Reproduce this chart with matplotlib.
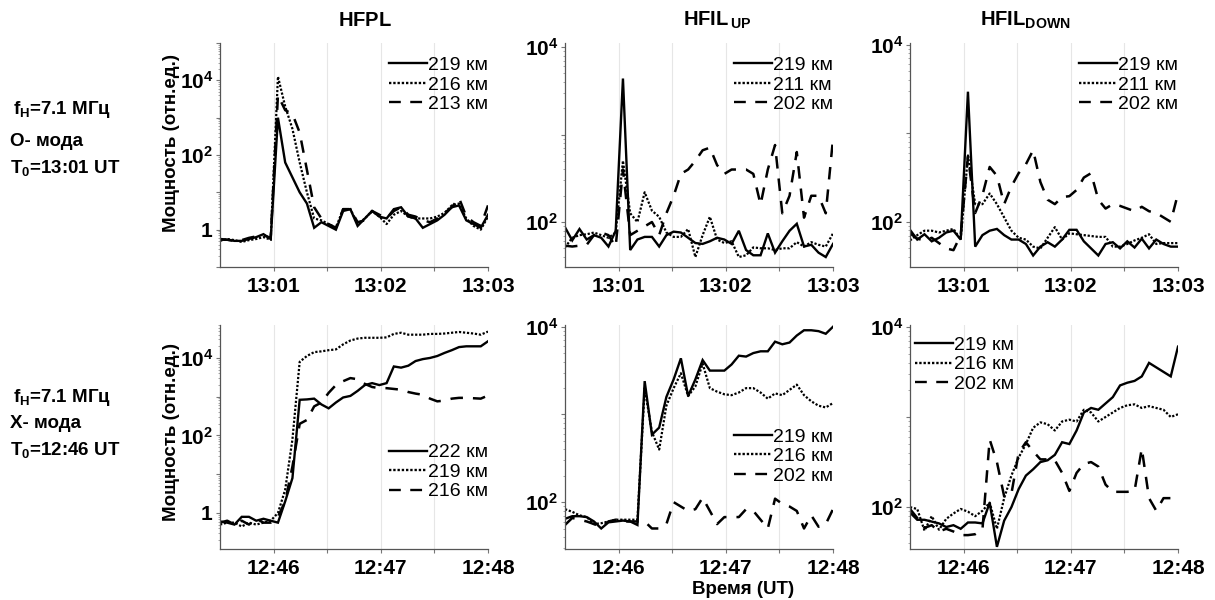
import numpy as np
import matplotlib
matplotlib.use("Agg")
import matplotlib.pyplot as plt
from matplotlib.ticker import FixedLocator, FixedFormatter, LogLocator, NullFormatter

plt.rcParams['font.family'] = ['Liberation Sans', 'DejaVu Sans']
plt.rcParams['mathtext.fontset'] = 'custom'
plt.rcParams['mathtext.rm'] = 'Liberation Sans'
plt.rcParams['mathtext.bf'] = 'Liberation Sans:bold'

# ---- data: log10 of received power (rel. units), 38 samples over 150 s ----
n_samples = 38
span_s = 150.0

# O-mode, T0 = 13:01 UT (window starts at 13:00:30)
o_hfpl_219 = [-0.27, -0.27, -0.3, -0.3, -0.25, -0.2, -0.12, -0.25, 3.0, 1.8, 1.4, 1.0, 0.7, 0.05,
              0.2, 0.1, 0.0, 0.5, 0.55, 0.1, 0.3, 0.5, 0.35, 0.3, 0.55, 0.6, 0.35, 0.3, 0.05, 0.15,
              0.25, 0.4, 0.6, 0.65, 0.25, 0.15, 0.05, 0.4]
o_hfpl_216 = [-0.3, -0.25, -0.28, -0.33, -0.28, -0.25, -0.2, -0.27, 4.1, 3.3, 2.7, 1.8, 1.0, 0.3,
              0.25, 0.15, 0.05, 0.55, 0.55, 0.15, 0.3, 0.5, 0.35, 0.15, 0.4, 0.5, 0.35, 0.3, 0.3, 0.3,
              0.35, 0.45, 0.65, 0.7, 0.3, 0.1, 0.0, 0.35]
o_hfpl_213 = [-0.25, -0.27, -0.3, -0.28, -0.22, -0.18, -0.15, -0.22, 3.6, 3.2, 3.1, 2.6, 1.6, 0.6,
              0.3, 0.15, 0.05, 0.55, 0.55, 0.2, 0.25, 0.5, 0.4, 0.3, 0.5, 0.6, 0.4, 0.35, 0.25, 0.2,
              0.3, 0.45, 0.6, 0.85, 0.35, 0.2, 0.1, 0.65]

o_up_219 = [1.94, 1.79, 1.92, 1.8, 1.85, 1.82, 1.72, 1.9, 3.64, 1.68, 1.8, 1.83, 1.83, 1.72,
            1.85, 1.89, 1.88, 1.82, 1.76, 1.75, 1.78, 1.82, 1.8, 1.75, 1.9, 1.68, 1.62, 1.62, 1.87,
            1.65, 1.78, 1.9, 1.98, 1.72, 1.74, 1.65, 1.6, 1.75]
o_up_211 = [1.71, 1.82, 1.85, 1.86, 1.88, 1.85, 1.82, 1.88, 2.7, 2.1, 2.0, 2.34, 2.13, 2.06,
            1.88, 1.83, 1.83, 1.92, 1.6, 1.85, 2.06, 1.8, 1.76, 1.78, 1.6, 1.62, 1.71, 1.7, 1.7,
            1.68, 1.7, 1.7, 1.77, 1.72, 1.77, 1.74, 1.72, 1.87]
o_up_202 = [1.73, 1.72, 1.73, 1.74, 1.85, 1.88, 1.85, 1.72, 2.6, 1.85, 1.9, 1.95, 2.0, 1.85,
            2.1, 2.3, 2.55, 2.6, 2.7, 2.82, 2.85, 2.65, 2.55, 2.6, 2.6, 2.6, 2.55, 2.2, 2.6,
            2.88, 2.1, 2.3, 2.8, 2.05, 2.3, 2.3, 2.1, 2.95]

o_down_219 = [1.91, 1.8, 1.86, 1.78, 1.82, 1.88, 1.9, 1.8, 3.47, 1.72, 1.85, 1.9, 1.92, 1.85,
              1.8, 1.8, 1.75, 1.62, 1.72, 1.77, 1.72, 1.8, 1.91, 1.91, 1.78, 1.7, 1.62, 1.75, 1.77,
              1.7, 1.78, 1.71, 1.81, 1.7, 1.8, 1.75, 1.72, 1.72]
o_down_211 = [1.79, 1.85, 1.9, 1.9, 1.88, 1.9, 1.92, 1.8, 2.75, 2.2, 2.2, 2.32, 2.2, 2.05,
              1.9, 1.82, 1.8, 1.72, 1.7, 1.82, 1.94, 1.8, 1.87, 1.86, 1.85, 1.84, 1.83, 1.83, 1.72,
              1.72, 1.75, 1.79, 1.82, 1.86, 1.75, 1.76, 1.76, 1.76]
o_down_202 = [1.87, 1.81, 1.79, 1.82, 1.76, 1.7, 1.68, 1.85, 2.74, 2.1, 2.3, 2.62, 2.52, 2.2,
              2.4, 2.55, 2.65, 2.81, 2.45, 2.25, 2.2, 2.28, 2.29, 2.36, 2.5, 2.55, 2.25, 2.15, 2.2,
              2.18, 2.15, 2.12, 2.17, 2.12, 2.1, 2.05, 2.0, 2.32]

# X-mode, T0 = 12:46 UT (window starts at 12:45:30)
x_hfpl_222 = [-0.22, -0.25, -0.3, -0.1, -0.1, -0.2, -0.15, -0.2, -0.25, 0.3, 0.9, 2.92, 2.93, 2.95,
              2.8, 2.7, 2.85, 2.98, 3.02, 3.15, 3.3, 3.35, 3.3, 3.35, 3.78, 3.75, 3.8, 3.92, 3.97,
              4.0, 4.05, 4.13, 4.2, 4.28, 4.3, 4.3, 4.3, 4.43]
x_hfpl_219 = [-0.3, -0.25, -0.25, -0.35, -0.25, -0.3, -0.25, -0.2, 0.0, 0.6, 1.9, 3.9, 4.05, 4.15,
              4.17, 4.2, 4.22, 4.35, 4.45, 4.5, 4.52, 4.52, 4.52, 4.53, 4.62, 4.65, 4.6, 4.6, 4.6,
              4.62, 4.62, 4.63, 4.65, 4.67, 4.65, 4.63, 4.6, 4.68]
x_hfpl_216 = [-0.25, -0.2, -0.3, -0.2, -0.3, -0.15, -0.25, -0.25, -0.1, 0.3, 1.2, 2.3, 2.4, 2.75,
              2.85, 3.1, 3.3, 3.4, 3.48, 3.45, 3.33, 3.25, 3.22, 3.22, 3.2, 3.18, 3.12, 3.08, 3.05,
              2.95, 2.88, 2.9, 2.95, 2.97, 2.97, 2.96, 2.95, 3.03]

x_up_219 = [1.81, 1.84, 1.84, 1.83, 1.78, 1.7, 1.77, 1.78, 1.79, 1.78, 1.74, 3.38, 2.77, 2.85,
            3.2, 3.4, 3.64, 3.21, 3.4, 3.62, 3.5, 3.5, 3.5, 3.57, 3.67, 3.66, 3.7, 3.72, 3.72,
            3.83, 3.8, 3.82, 3.9, 3.96, 3.96, 3.95, 3.92, 4.0]
x_up_216 = [1.92, 1.89, 1.85, 1.83, 1.75, 1.76, 1.78, 1.8, 1.8, 1.8, 1.8, 3.3, 2.8, 2.6,
            3.1, 3.3, 3.47, 3.21, 3.32, 3.58, 3.3, 3.26, 3.23, 3.22, 3.25, 3.3, 3.3, 3.25, 3.18,
            3.24, 3.22, 3.28, 3.34, 3.22, 3.15, 3.1, 3.08, 3.13]
x_up_202 = [1.74, 1.82, 1.8, 1.78, 1.75, 1.72, 1.78, 1.8, 1.78, 1.78, 1.78, 1.78, 1.7, 1.7,
            1.75, 2.0, 1.95, 1.9, 1.92, 2.05, 1.9, 1.75, 1.83, 1.83, 1.83, 1.92, 1.9, 1.8, 1.7,
            2.04, 1.98, 1.95, 1.9, 1.7, 1.85, 1.72, 1.75, 1.92]

x_down_219 = [1.94, 1.86, 1.86, 1.84, 1.82, 1.78, 1.8, 1.76, 1.83, 1.83, 1.82, 2.05, 1.56, 1.85,
              2.0, 2.2, 2.35, 2.42, 2.5, 2.52, 2.58, 2.72, 2.7, 2.85, 3.05, 3.1, 3.08, 3.15, 3.22,
              3.35, 3.38, 3.4, 3.45, 3.6, 3.55, 3.5, 3.45, 3.78]
x_down_216 = [2.0, 1.98, 1.74, 1.9, 1.75, 1.87, 1.93, 1.98, 1.95, 1.9, 1.96, 2.05, 1.76, 2.1,
              2.35, 2.55, 2.7, 2.88, 2.94, 2.92, 2.85, 2.95, 2.97, 2.95, 3.08, 3.05, 2.95, 3.0, 3.05,
              3.1, 3.13, 3.14, 3.1, 3.12, 3.1, 3.08, 3.0, 3.03]
x_down_202 = [1.98, 1.88, 1.77, 1.8, 1.73, 1.76, 1.73, 1.69, 1.69, 1.7, 1.75, 2.75, 2.5, 2.12,
              2.15, 2.6, 2.72, 2.62, 2.53, 2.53, 2.52, 2.38, 2.18, 2.38, 2.48, 2.5, 2.45, 2.25, 2.17,
              2.17, 2.17, 2.18, 2.65, 2.1, 1.96, 2.1, 2.1, 2.09]

o_labels = {"hfpl": ["219 км", "216 км", "213 км"],
            "up": ["219 км", "211 км", "202 км"],
            "down": ["219 км", "211 км", "202 км"]}
x_labels = {"hfpl": ["222 км", "219 км", "216 км"],
            "up": ["219 км", "216 км", "202 км"],
            "down": ["219 км", "216 км", "202 км"]}
o_ticks = ["13:01", "13:02", "13:03"]
x_ticks = ["12:46", "12:47", "12:48"]
col_titles = [r"$\mathbf{HFPL}$", r"$\mathbf{HFIL_{\,UP}}$", r"$\mathbf{HFIL_{DOWN}}$"]

# ---- layout ----
W, H = 1215, 600
fig = plt.figure(figsize=(W / 100, H / 100), dpi=100)

def px_axes(x0, y0, x1, y1):
    return fig.add_axes([x0 / W, 1 - y1 / H, (x1 - x0) / W, (y1 - y0) / H])

col_x = [(220, 488), (565, 833), (910, 1178)]
row_y = [(43, 267), (325, 549)]

ylims = [[(10 ** -1.0, 10 ** 5.0), (10 ** 1.486, 10 ** 4.046), (10 ** 1.49, 10 ** 4.02)],
         [(10 ** -0.93, 10 ** 4.85), (10 ** 1.466, 10 ** 4.02), (10 ** 1.536, 10 ** 4.02)]]

styles = [dict(ls="-", lw=1.7),
          dict(ls=(0, (1, 0.8)), lw=1.6),
          dict(ls=(0, (5, 4)), lw=1.8)]

panels = [
    [(o_hfpl_219, o_hfpl_216, o_hfpl_213), (o_up_219, o_up_211, o_up_202),
     (o_down_219, o_down_211, o_down_202)],
    [(x_hfpl_222, x_hfpl_219, x_hfpl_216), (x_up_219, x_up_216, x_up_202),
     (x_down_219, x_down_216, x_down_202)],
]
labels = [[o_labels["hfpl"], o_labels["up"], o_labels["down"]],
          [x_labels["hfpl"], x_labels["up"], x_labels["down"]]]
tick_sets = [o_ticks, x_ticks]
legend_locs = [["upper right", "upper right", "upper right"],
               ["upper right", "upper right", "upper left"]]
legend_anchor = [[(1.0, 0.94), (1.0, 0.94), (1.0, 0.94)],
                 [(1.0, 0.47), (1.0, 0.54), (0.02, 0.95)]]

t = np.linspace(0, span_s, n_samples)
fmt_log = {-1: "", 0: r"$\mathbf{1}$", 1: "", 2: r"$\mathbf{10^{2}}$",
           3: "", 4: r"$\mathbf{10^{4}}$", 5: ""}

for r in range(2):
    for c in range(3):
        x0, x1 = col_x[c]
        y0, y1 = row_y[r]
        ax = px_axes(x0, y0, x1, y1)
        for series, lab, st in zip(panels[r][c], labels[r][c], styles):
            ax.plot(t, 10 ** np.asarray(series), color="black", label=lab,
                    solid_joinstyle="miter", **st)
        ax.set_yscale("log")
        ax.set_ylim(*ylims[r][c])
        ax.set_xlim(0, span_s)
        # decade ticks, labelled on even decades
        dec = [e for e in range(-1, 6)]
        ax.yaxis.set_major_locator(FixedLocator([10.0 ** e for e in dec]))
        ax.yaxis.set_major_formatter(FixedFormatter([fmt_log[e] for e in dec]))
        ax.yaxis.set_minor_locator(LogLocator(base=10, subs=np.arange(2, 10), numticks=20))
        ax.yaxis.set_minor_formatter(NullFormatter())
        ax.set_xticks([30, 90, 150])
        ax.set_xticklabels(tick_sets[r], fontsize=15, fontweight="bold")
        ax.set_xticks([60, 120], minor=True)
        ax.tick_params(axis="y", which="major", labelsize=15, length=3, width=0.8,
                       color="#777777", pad=2)
        ax.tick_params(axis="y", which="minor", length=1.5, width=0.6, color="#999999")
        ax.tick_params(axis="x", which="both", length=3, width=0.8, color="#777777", pad=4)
        for s in ("top", "right"):
            ax.spines[s].set_visible(False)
        for s in ("left", "bottom"):
            ax.spines[s].set_color("#555555")
            ax.spines[s].set_linewidth(0.9)
        for xv in (30, 60, 90, 120):
            ax.axvline(xv, color="#e6e6e6", lw=0.8, zorder=0)
        leg = ax.legend(loc=legend_locs[r][c], bbox_to_anchor=legend_anchor[r][c],
                        frameon=False, fontsize=14, handlelength=1.95, handletextpad=0.05,
                        labelspacing=0.1, borderaxespad=0.0, borderpad=0.0)
        for h in leg.get_lines():
            h.set_linewidth(1.7)

# column titles
for cx, title in zip([365, 717, 1025], col_titles):
    fig.text(cx / W, 1 - 20 / H, title, ha="center", va="center", fontsize=14.5)

# y-axis labels
for yc in (143, 432):
    fig.text(172 / W, 1 - yc / H, "Мощность (отн.ед.)", rotation=90, ha="center",
             va="center", fontsize=13.5, fontweight="bold")

fig.text(743 / W, 1 - 590 / H, "Время (UT)", ha="center", va="center",
         fontsize=13.5, fontweight="bold")

# row annotations
def row_note(y_f, y_mode, y_t, mode, t0):
    fig.text(13 / W, 1 - y_f / H, r"$\mathbf{f_{H}}$=7.1 МГц", ha="left", va="center",
             fontsize=13.5, fontweight="bold")
    fig.text(10 / W, 1 - y_mode / H, mode, ha="left", va="center",
             fontsize=13.5, fontweight="bold")
    fig.text(10 / W, 1 - y_t / H, r"$\mathbf{T_{0}}$=" + t0, ha="left", va="center",
             fontsize=13.5, fontweight="bold")

row_note(110, 142, 168, "О- мода", "13:01 UT")
row_note(397, 423, 450, "X- мода", "12:46 UT")

fig.savefig("out.png", dpi=100, facecolor="white")
